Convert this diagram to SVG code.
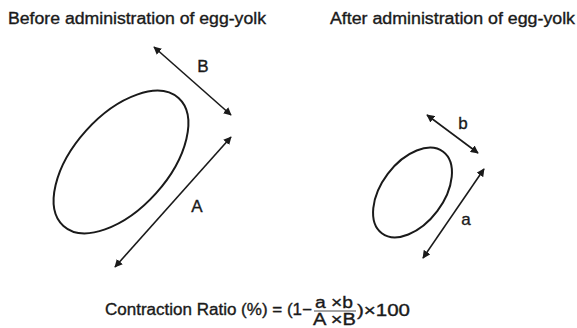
<svg xmlns="http://www.w3.org/2000/svg" width="577" height="328" viewBox="0 0 577 328">
<defs>
<marker id="ah" viewBox="0 0 10 10" refX="9" refY="5" markerWidth="5" markerHeight="5" orient="auto-start-reverse" markerUnits="strokeWidth">
<path d="M0,0 L10,5 L0,10 z" fill="#1a1a1a"/>
</marker>
</defs>
<style>
text{font-family:"Liberation Sans",Arial,sans-serif;fill:#1a1a1a;stroke:#1a1a1a;stroke-width:0.35}
.t{font-size:16px}
.lbl{font-size:17px;text-anchor:middle}
.f{font-size:16px}
.ell{fill:none;stroke:#1a1a1a;stroke-width:2}
.arr{stroke:#1a1a1a;stroke-width:1.6;fill:none;marker-start:url(#ah);marker-end:url(#ah)}
</style>
<rect width="577" height="328" fill="#fff"/>
<g id="title-before"><text class="t" x="8" y="24" textLength="258" lengthAdjust="spacingAndGlyphs">Before administration of egg-yolk</text></g>
<g id="title-after"><text class="t" x="330" y="24" textLength="245" lengthAdjust="spacingAndGlyphs">After administration of egg-yolk</text></g>
<g id="ellipse-before"><ellipse class="ell" cx="121" cy="162" rx="86" ry="47" transform="rotate(-48 121 162)"/></g>
<g id="ellipse-after"><ellipse class="ell" cx="412.5" cy="192.5" rx="51" ry="31" transform="rotate(-53 412.5 192.5)"/></g>
<g id="connectors">
<line class="arr" x1="154" y1="47" x2="231" y2="115"/>
<line class="arr" x1="231" y1="137" x2="115" y2="267"/>
<line class="arr" x1="427" y1="115" x2="478" y2="153"/>
<line class="arr" x1="484" y1="169" x2="423" y2="258"/>
</g>
<g id="label-B"><text class="lbl" x="203" y="72">B</text></g>
<g id="label-A"><text class="lbl" x="197" y="212">A</text></g>
<g id="label-b"><text class="lbl" x="463" y="129">b</text></g>
<g id="label-a"><text class="lbl" x="466" y="225">a</text></g>
<g id="formula">
<text class="f" x="105" y="315" textLength="207" lengthAdjust="spacingAndGlyphs">Contraction Ratio (%) = (1−</text>
<text class="f" x="315" y="308" textLength="38" lengthAdjust="spacingAndGlyphs">a ×b</text>
<line x1="314" y1="311" x2="356" y2="311" stroke="#1a1a1a" stroke-width="0.8"/>
<text class="f" x="313" y="325" textLength="43" lengthAdjust="spacingAndGlyphs">A ×B</text>
<text class="f" x="357" y="316" textLength="53" lengthAdjust="spacingAndGlyphs">)×100</text>
</g>
</svg>
